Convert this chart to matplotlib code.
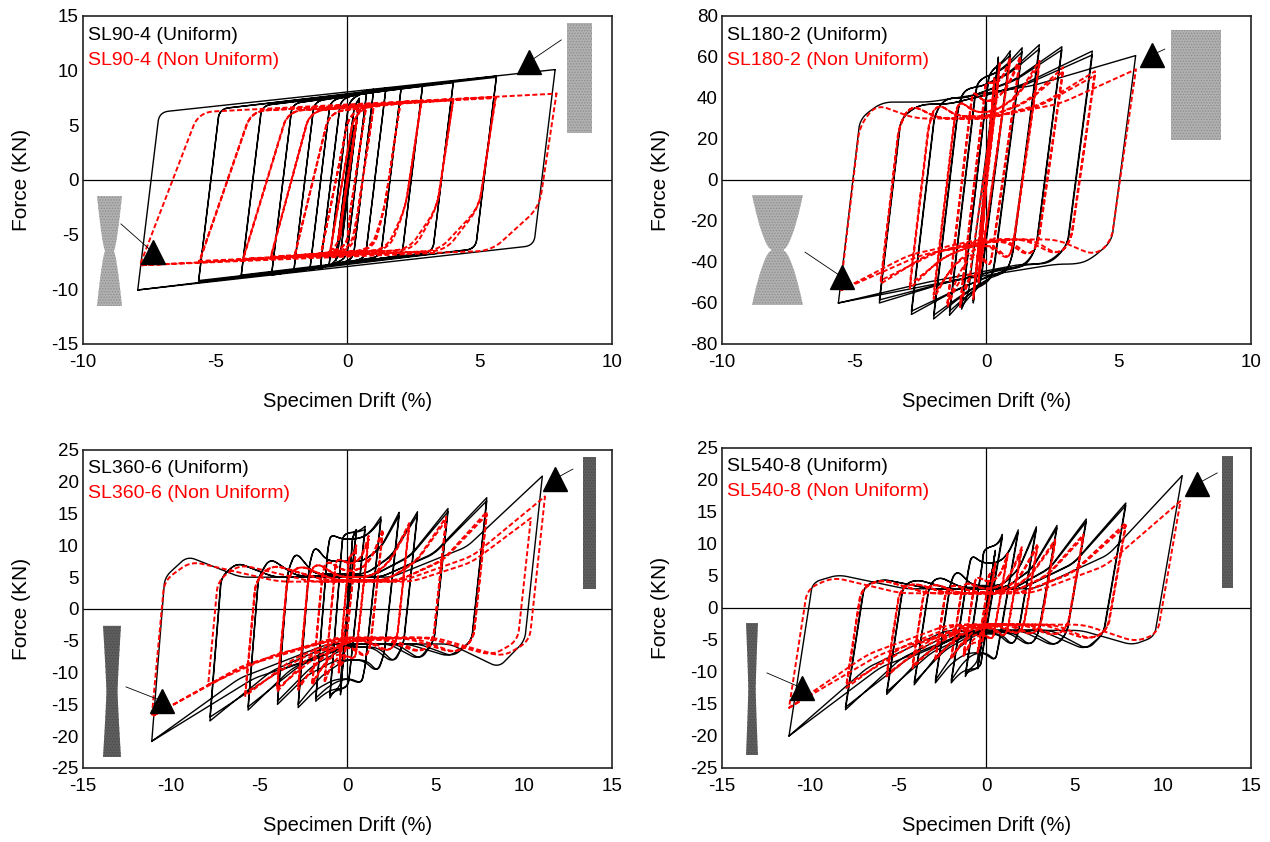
import numpy as np
import matplotlib
matplotlib.use('Agg')
import matplotlib.pyplot as plt
from matplotlib.patches import Polygon

plt.rcParams['font.family'] = ['Liberation Sans', 'DejaVu Sans']
plt.rcParams['axes.unicode_minus'] = False
plt.rcParams['hatch.linewidth'] = 0.6

# ── Panel 1: SL90-4 ───────────────────────────────────────────────────────────
B1_NEG_D = [-0.25, -0.45, -0.7, -1.03, -1.42, -2.03, -2.87, -4.02, -5.63, -7.93]
B1_NEG_F = [-5.0, -7.4, -7.9, -8.1, -8.2, -8.4, -8.7, -8.84, -9.3, -10.06]
B1_NEG_F2 = [-4.8, -7.3, -7.8, -8.0, -8.1, -8.3, -8.6, -8.7, -9.2, None]
B1_POS_D = [0.25, 0.45, 0.73, 0.99, 1.45, 2.03, 2.84, 4.0, 5.63, 7.85]
B1_POS_F = [5.0, 7.5, 8.2, 8.3, 8.4, 8.5, 8.7, 9.0, 9.5, 10.1]
B1_POS_F2 = [4.8, 7.4, 8.1, 8.2, 8.3, 8.4, 8.6, 8.9, 9.4, None]
B1_UP_FC = [5.0, 7.0, 7.3, 7.4, 7.3, 7.2, 7.0, 6.8, 6.5, 6.2]
B1_DN_FC = [-5.0, -6.9, -7.2, -7.3, -7.2, -7.0, -6.9, -6.6, -6.3, -6.0]

R1_NEG_D = [-0.35, -0.65, -1.0, -2.0, -2.9, -3.95, -5.6, -7.85]
R1_NEG_F = [-5.5, -6.5, -6.8, -7.0, -7.1, -7.3, -7.5, -7.8]
R1_NEG_F2 = [-5.4, -6.4, -6.7, -6.9, -7.0, -7.2, -7.4, None]
R1_POS_D = [0.35, 0.7, 1.0, 2.0, 2.8, 4.0, 5.6, 7.9]
R1_POS_F = [5.5, 6.7, 6.9, 7.1, 7.3, 7.4, 7.6, 7.9]
R1_POS_F2 = [5.4, 6.6, 6.8, 7.0, 7.2, 7.3, 7.5, None]
R1_K_UP = [16, 14, 12, 10, 9, 8, 7, 6.3]
R1_UP_FC = [5.5, 6.0, 6.2, 6.2, 6.3, 6.3, 6.3, 6.2]
R1_DN_FC = [-4.0, -3.0, -3.0, -2.5, -2.5, -2.5, -2.5, -2.5]
R1_DN_FB = [-6.0, -6.3, -6.4, -6.4, -6.4, -6.4, -6.5, -6.5]

# ── Panel 2: SL180-2 ──────────────────────────────────────────────────────────
B2_NEG_D = [-0.3, -0.5, -0.94, -1.4, -2.0, -2.84, -4.05, -5.6]
B2_NEG_F = [-50, -60, -63, -66, -67.8, -65.6, -60, -60]
B2_NEG_F2 = [-49, -59, -61.5, -64, -66, -64, -58.5, None]
B2_POS_D = [0.3, 0.45, 0.9, 1.35, 2.0, 2.85, 4.0, 5.64]
B2_POS_F = [50, 60, 63, 64.5, 66, 65, 62.9, 60.7]
B2_POS_F2 = [49, 59, 61, 62.5, 64, 63.5, 61, None]
B2_UP_FC = [45, 50, 46, 42, 36, 32, 30, 30]
B2_UP_FB = [50, 56, 53, 50, 45, 40, 36, 38]
B2_UP_FP = [52, 57, 54, 50, 45, 40, 37, 38]
B2_DN_FC = [-45, -50, -46, -42, -38, -34, -32, -30]
B2_DN_FB = [-50, -55, -52, -50, -46, -42, -40, -39]
B2_DN_FP = [-52, -56, -53, -50, -46, -43, -41, -41]

R2_NEG_D = [-0.3, -0.5, -1.0, -1.48, -2.0, -2.9, -4.0, -5.53]
R2_NEG_F = [-50, -58, -62, -62, -58, -53, -50.6, -53.9]
R2_NEG_F2 = [-49, -56, -60, -60, -56, -51, -49, None]
R2_POS_D = [0.3, 0.5, 0.9, 1.28, 2.0, 2.9, 4.1, 5.65]
R2_POS_F = [50, 57, 60, 60.4, 58, 55, 53, 54]
R2_POS_F2 = [49, 56, 58.5, 58.5, 56, 53, 51, None]
R2_UP_FC = [40, 45, 40, 35, 30, 28, 26, 26]
R2_UP_FB = [48, 52, 50, 45, 40, 38, 37, 37]
R2_UP_FP = [50, 52, 46, 38, 33, 31, 30, 30]
R2_DN_FC = [-40, -45, -40, -35, -32, -30, -30, -30]
R2_DN_FB = [-48, -52, -48, -44, -40, -38, -37, -37]
R2_DN_FP = [-50, -52, -45, -36, -32, -30, -29, -29]

# ── Panel 3: SL360-6 ──────────────────────────────────────────────────────────
B3_NEG_D = [-0.4, -1.0, -1.8, -2.8, -3.97, -5.64, -7.8, -11.1]
B3_NEG_F = [-13.5, -14.0, -14.5, -15.5, -15.0, -15.9, -17.6, -20.8]
B3_NEG_F2 = [-13, -13.5, -14, -15, -14.5, -15.4, -17, None]
B3_POS_D = [0.5, 1.0, 1.9, 2.93, 3.97, 5.7, 7.9, 11.05]
B3_POS_F = [12.5, 13.0, 14.5, 15.2, 15.3, 15.8, 17.5, 20.9]
B3_POS_F2 = [12, 12.5, 14, 14.7, 14.8, 15.3, 17, None]
B3_UP_FC = [10, 10, 9, 7, 6, 5, 5, 5]
B3_UP_FB = [12, 12, 12, 10, 9, 8, 7.3, 8.3]
B3_UP_FP = [12, 12, 11, 7.5, 5.5, 5.2, 5.0, 5.0]
B3_DN_FC = [-10, -10, -9, -7, -5.5, -5, -5, -5]
B3_DN_FB = [-12.5, -12.5, -12, -10, -8.5, -8, -7.5, -9.2]
B3_DN_FP = [-12.5, -12.5, -11, -8, -6, -5.5, -5.5, -5.5]

R3_NEG_D = [-0.5, -1.3, -2.0, -2.8, -4.0, -5.8, -7.9, -11.1]
R3_NEG_F = [-10, -11.6, -12, -12.7, -13, -13.7, -11.9, -16.9]
R3_NEG_F2 = [-9.6, -11.2, -11.6, -12.2, -12.5, -13.2, None, None]
R3_POS_D = [0.5, 1.2, 2.0, 3.5, 5.6, 7.9, 10.4, 11.2]
R3_POS_F = [10, 11.5, 12.5, 13.5, 14.5, 15.3, 14.3, 17.7]
R3_POS_F2 = [9.6, 11, 12, 13, 14, 14.8, None, None]
R3_UP_FC = [7, 6, 5.5, 5, 5, 4.5, 4.5, 4.5]
R3_UP_FB = [9, 8.5, 8, 7.5, 7, 7, 7.0, 7.5]
R3_UP_FP = [8, 7, 6, 5, 4.5, 4.5, 4.3, 4.3]
R3_DN_FC = [-7, -6, -5.5, -5, -5, -5, -5, -5]
R3_DN_FB = [-9, -8.5, -8, -7, -7, -7, -7.3, -7.5]
R3_DN_FP = [-8, -7, -6, -5, -4.8, -4.6, -4.5, -4.5]

# ── Panel 4: SL540-8 ──────────────────────────────────────────────────────────
B4_NEG_D = [-0.5, -1.2, -2.0, -2.9, -4.1, -5.66, -8.0, -11.2]
B4_NEG_F = [-9.5, -10.7, -11.7, -11.7, -12, -13.5, -15.9, -20]
B4_NEG_F2 = [-9.2, -10.3, -11.3, -11.3, -11.6, -13.1, -15.5, None]
B4_POS_D = [0.5, 0.9, 1.8, 2.83, 4.0, 5.66, 7.9, 11.1]
B4_POS_F = [9, 11.5, 12.2, 12.7, 12.9, 13.9, 16.4, 20.7]
B4_POS_F2 = [8.7, 11, 11.8, 12.3, 12.5, 13.5, 16, None]
B4_UP_FC = [7, 7, 6, 4, 3.5, 3.5, 3.5, 4]
B4_UP_FB = [8.5, 9.5, 8.5, 6, 5, 4.5, 4.5, 5.2]
B4_UP_FP = [8.5, 9.5, 7, 3.5, 3.2, 3.0, 3.0, 3.0]
B4_DN_FC = [-7, -7, -6, -4, -4, -4, -4, -4.5]
B4_DN_FB = [-9, -9.5, -8.5, -6, -6, -6, -6.5, -5.8]
B4_DN_FP = [-9, -9.5, -7, -4, -3.8, -3.6, -3.5, -3.5]

R4_NEG_D = [-0.5, -1.3, -2.0, -2.9, -4.2, -5.66, -7.95, -11.2]
R4_NEG_F = [-7, -7.5, -8, -8.1, -9.4, -10.7, -12.5, -15.6]
R4_NEG_F2 = [-6.8, -7.2, -7.7, -7.8, -9.0, -10.3, -12.0, None]
R4_POS_D = [0.5, 1.2, 2.0, 2.9, 3.9, 5.5, 7.9, 11.0]
R4_POS_F = [7, 8.5, 9.5, 10, 10.7, 11.5, 13.3, 16.7]
R4_POS_F2 = [6.8, 8.2, 9.1, 9.6, 10.3, 11.1, 12.8, None]
R4_UP_FC = [4, 3.5, 3, 3, 3, 3, 3, 3]
R4_UP_FB = [6, 5.5, 4.5, 4, 4, 4, 4.5, 4.8]
R4_UP_FP = [5, 4, 3, 2.5, 2.3, 2.3, 2.3, 2.3]
R4_DN_FC = [-4, -3.5, -3, -3, -3, -3, -3.5, -4]
R4_DN_FB = [-6, -5.5, -5, -4.5, -4.5, -4.5, -5, -5.3]
R4_DN_FP = [-5, -4, -3, -2.8, -2.6, -2.6, -2.6, -2.6]

TITLES = ['SL90-4', 'SL180-2', 'SL360-6', 'SL540-8']
X_TICKS = [[-10, -5, 0, 5, 10], [-10, -5, 0, 5, 10],
           [-15, -10, -5, 0, 5, 10, 15], [-15, -10, -5, 0, 5, 10, 15]]
Y_TICKS = [list(range(-15, 16, 5)), list(range(-80, 81, 20)),
           list(range(-25, 26, 5)), list(range(-25, 26, 5))]

BLACK = '#000000'
RED = '#ff0000'
RED_DASH = (0, (2.6, 1.3))


# ── Loop geometry helpers ─────────────────────────────────────────────────────

def branch(p0, p1, k, fc, fb=None, fp=None, shape=None):
    """Vertices of one half cycle from peak p0 to peak p1."""
    x0, f0 = p0
    x1, f1 = p1
    xa = x0 + (fc - f0) / k
    if (xa - x0) * (x1 - xa) <= 0:
        return [p0, p1]
    if fb is None:
        return [p0, (xa, fc), p1]
    bx, dx, pf, kx, kf = shape
    span = x1 - xa
    if fp is None:
        fp = fb
    e = (xa + pf * span, fp)
    knee = (e[0] + kx * (x1 - e[0]), fp + kf * (f1 - fp))
    return [p0, (xa, fc), (xa + bx * span, fb), (xa + dx * span, fp), e, knee, p1]


def smooth(verts, sx, sy, h):
    v = np.asarray(verts, float) * [sx, sy]
    d = np.hypot(*np.diff(v, axis=0).T)
    v = v[np.r_[True, d > 1e-9]]
    s = np.r_[0, np.cumsum(np.hypot(*np.diff(v, axis=0).T))]
    m = max(int(s[-1]) + 2, 3)
    t = np.linspace(0, s[-1], m)
    x = np.interp(t, s, v[:, 0])
    y = np.interp(t, s, v[:, 1])
    h = min(h, (m - 1) // 2)
    if h >= 1:
        ker = np.ones(2 * h + 1) / (2 * h + 1)
        x = np.convolve(np.pad(x, h, mode='reflect', reflect_type='odd'), ker, mode='valid')
        y = np.convolve(np.pad(y, h, mode='reflect', reflect_type='odd'), ker, mode='valid')
    return x / sx, y / sy


def loop_series(neg_d, neg_f, pos_d, pos_f, k_up, k_dn, up_fc, dn_fc,
                up_fb=None, up_fp=None, dn_fb=None, dn_fp=None,
                up_shape=None, dn_shape=None, neg_f2=None, pos_f2=None):
    n = len(neg_d)
    halves = [[(0.0, 0.0), (neg_d[0], neg_f[0])]]
    for i in range(n):
        ku = k_up[i] if np.iterable(k_up) else k_up
        up = lambda a, b: branch(a, b, ku, up_fc[i],
                                 up_fb[i] if up_fb else None,
                                 up_fp[i] if up_fp else None, up_shape)
        dn = lambda a, b: branch(a, b, k_dn, dn_fc[i],
                                 dn_fb[i] if dn_fb else None,
                                 dn_fp[i] if dn_fp else None, dn_shape)
        neg = (neg_d[i], neg_f[i])
        pos = (pos_d[i], pos_f[i])
        halves.append(up(neg, pos))
        if pos_f2 and pos_f2[i] is not None:
            neg2 = (neg_d[i], neg_f2[i])
            pos2 = (pos_d[i], pos_f2[i])
            halves.append(dn(pos, neg2))
            halves.append(up(neg2, pos2))
            pos = pos2
        nxt = (neg_d[i + 1], neg_f[i + 1]) if i + 1 < n else neg
        halves.append(dn(pos, nxt))
    return halves


def draw_loops(ax, halves, color, lw, ls, h):
    x0, x1 = ax.get_xlim()
    y0, y1 = ax.get_ylim()
    bb = ax.get_position()
    sx = bb.width * 1270 / (x1 - x0)
    sy = bb.height * 842 / (y1 - y0)
    xs, ys = [], []
    for verts in halves:
        x, y = smooth(verts, sx, sy, h)
        xs.append(x)
        ys.append(y)
    ax.plot(np.concatenate(xs), np.concatenate(ys), color=color, lw=lw, ls=ls,
            solid_joinstyle='round', zorder=3)


def draw_icon(ax, x0, x1, y0, y1, neck, power, face, dots):
    t = np.linspace(0, 1, 61)
    cx = (x0 + x1) / 2
    hw = (x1 - x0) / 2 * (neck + (1 - neck) * np.abs(2 * t - 1) ** power)
    ys = y0 + t * (y1 - y0)
    pts = np.c_[np.r_[cx - hw, (cx + hw)[::-1]], np.r_[ys, ys[::-1]]]
    ax.add_patch(Polygon(pts, closed=True, transform=ax.transAxes,
                         facecolor=face, edgecolor=dots, lw=0, hatch='......',
                         clip_on=False, zorder=4))


def draw_pointer(ax, start, tip):
    ax.plot([start[0], tip[0]], [start[1], tip[1]], color='k', lw=0.6,
            transform=ax.transAxes, clip_on=False, zorder=5)
    ax.plot([tip[0]], [tip[1]], marker='^', ms=17, color='k',
            transform=ax.transAxes, clip_on=False, zorder=5)


# ── Figure ────────────────────────────────────────────────────────────────────

fig = plt.figure(figsize=(12.7, 8.42), dpi=100)
positions = [[0.06535, 0.59145, 0.41654, 0.38955],
             [0.56850, 0.59145, 0.41654, 0.38955],
             [0.06535, 0.08789, 0.41654, 0.37767],
             [0.56850, 0.08789, 0.41654, 0.38005]]
axes = [fig.add_axes(p) for p in positions]

for i, ax in enumerate(axes):
    ax.set_xlim(X_TICKS[i][0], X_TICKS[i][-1])
    ax.set_ylim(Y_TICKS[i][0], Y_TICKS[i][-1])
    ax.set_xticks(X_TICKS[i])
    ax.set_yticks(Y_TICKS[i])
    ax.tick_params(length=0, labelsize=13.5)
    ax.tick_params(axis='x', pad=7)
    ax.tick_params(axis='y', pad=3)
    for sp in ax.spines.values():
        sp.set_linewidth(1.2)
        sp.set_color('#222222')
    ax.axhline(0, color='k', lw=0.9, zorder=2)
    ax.axvline(0, color='k', lw=0.9, zorder=2)
    ax.set_xlabel('Specimen Drift (%)', fontsize=14.5)
    ax.set_ylabel('Force (KN)', fontsize=15)
    h_px = positions[i][3] * 842
    ax.xaxis.set_label_coords(0.5, -48 / h_px)
    ax.yaxis.set_label_coords(-0.098, 0.5)
    ax.text(0.01, 0.942, f'{TITLES[i]} (Uniform)', transform=ax.transAxes,
            fontsize=14, color=BLACK, va='center', ha='left')
    ax.text(0.01, 0.863, f'{TITLES[i]} (Non Uniform)', transform=ax.transAxes,
            fontsize=14, color=RED, va='center', ha='left')

ax1, ax2, ax3, ax4 = axes

# panel 1
draw_loops(ax1, loop_series(B1_NEG_D, B1_NEG_F, B1_POS_D, B1_POS_F, 20, 20,
                            B1_UP_FC, B1_DN_FC, neg_f2=B1_NEG_F2, pos_f2=B1_POS_F2),
           BLACK, 1.0, '-', 9)
draw_loops(ax1, loop_series(R1_NEG_D, R1_NEG_F, R1_POS_D, R1_POS_F, R1_K_UP, 16,
                            R1_UP_FC, R1_DN_FC, dn_fb=R1_DN_FB,
                            dn_shape=(0.12, 0.14, 0.15, 0.5, 0.5),
                            neg_f2=R1_NEG_F2, pos_f2=R1_POS_F2),
           RED, 1.4, RED_DASH, 15)

# panel 2
draw_loops(ax2, loop_series(B2_NEG_D, B2_NEG_F, B2_POS_D, B2_POS_F, 110, 100,
                            B2_UP_FC, B2_DN_FC, B2_UP_FB, B2_UP_FP, B2_DN_FB, B2_DN_FP,
                            (0.08, 0.12, 0.25, 0.5, 0.35), (0.08, 0.12, 0.2, 0.5, 0.45),
                            B2_NEG_F2, B2_POS_F2),
           BLACK, 1.0, '-', 10)
draw_loops(ax2, loop_series(R2_NEG_D, R2_NEG_F, R2_POS_D, R2_POS_F, 110, 90,
                            R2_UP_FC, R2_DN_FC, R2_UP_FB, R2_UP_FP, R2_DN_FB, R2_DN_FP,
                            (0.06, 0.2, 0.45, 0.5, 0.3), (0.06, 0.2, 0.4, 0.5, 0.3),
                            R2_NEG_F2, R2_POS_F2),
           RED, 1.4, RED_DASH, 12)

# panel 3
draw_loops(ax3, loop_series(B3_NEG_D, B3_NEG_F, B3_POS_D, B3_POS_F, 35, 26,
                            B3_UP_FC, B3_DN_FC, B3_UP_FB, B3_UP_FP, B3_DN_FB, B3_DN_FP,
                            (0.06, 0.2, 0.6, 0.5, 0.3), (0.07, 0.2, 0.45, 0.5, 0.35),
                            B3_NEG_F2, B3_POS_F2),
           BLACK, 1.0, '-', 8)
draw_loops(ax3, loop_series(R3_NEG_D, R3_NEG_F, R3_POS_D, R3_POS_F, 30, 26,
                            R3_UP_FC, R3_DN_FC, R3_UP_FB, R3_UP_FP, R3_DN_FB, R3_DN_FP,
                            (0.07, 0.3, 0.62, 0.5, 0.3), (0.07, 0.25, 0.5, 0.5, 0.35),
                            R3_NEG_F2, R3_POS_F2),
           RED, 1.4, RED_DASH, 11)

# panel 4
draw_loops(ax4, loop_series(B4_NEG_D, B4_NEG_F, B4_POS_D, B4_POS_F, 18, 16,
                            B4_UP_FC, B4_DN_FC, B4_UP_FB, B4_UP_FP, B4_DN_FB, B4_DN_FP,
                            (0.07, 0.25, 0.6, 0.5, 0.3), (0.06, 0.2, 0.5, 0.5, 0.35),
                            B4_NEG_F2, B4_POS_F2),
           BLACK, 1.0, '-', 8)
draw_loops(ax4, loop_series(R4_NEG_D, R4_NEG_F, R4_POS_D, R4_POS_F, 18, 16,
                            R4_UP_FC, R4_DN_FC, R4_UP_FB, R4_UP_FP, R4_DN_FB, R4_DN_FP,
                            (0.07, 0.25, 0.6, 0.5, 0.3), (0.06, 0.2, 0.5, 0.5, 0.35),
                            R4_NEG_F2, R4_POS_F2),
           RED, 1.4, RED_DASH, 11)

# specimen sketches and pointers
LIGHT, LIGHT_DOT = '#b0b0b0', '#8c8c8c'
DARK, DARK_DOT = '#5e5e5e', '#4a4a4a'
draw_icon(ax1, 0.915, 0.962, 0.643, 0.979, 1.0, 1.0, LIGHT, LIGHT_DOT)
draw_icon(ax1, 0.0265, 0.0737, 0.116, 0.451, 0.35, 0.7, LIGHT, LIGHT_DOT)
draw_pointer(ax1, (0.904, 0.927), (0.843, 0.860))
draw_pointer(ax1, (0.0718, 0.366), (0.132, 0.280))

draw_icon(ax2, 0.849, 0.943, 0.622, 0.957, 1.0, 1.0, LIGHT, LIGHT_DOT)
draw_icon(ax2, 0.0567, 0.153, 0.119, 0.454, 0.22, 0.6, LIGHT, LIGHT_DOT)
draw_pointer(ax2, (0.837, 0.899), (0.813, 0.881))
draw_pointer(ax2, (0.157, 0.280), (0.227, 0.204))

draw_icon(ax3, 0.945, 0.970, 0.563, 0.978, 1.0, 1.0, DARK, DARK_DOT)
draw_icon(ax3, 0.0378, 0.0718, 0.0346, 0.447, 0.62, 1.2, DARK, DARK_DOT)
draw_pointer(ax3, (0.926, 0.940), (0.892, 0.909))
draw_pointer(ax3, (0.0813, 0.255), (0.149, 0.211))

draw_icon(ax4, 0.945, 0.966, 0.5625, 0.975, 1.0, 1.0, DARK, DARK_DOT)
draw_icon(ax4, 0.0454, 0.068, 0.0406, 0.453, 0.62, 1.2, DARK, DARK_DOT)
draw_pointer(ax4, (0.936, 0.922), (0.898, 0.8875))
draw_pointer(ax4, (0.085, 0.297), (0.151, 0.25))

fig.savefig('out.png', dpi=100, facecolor='white')
